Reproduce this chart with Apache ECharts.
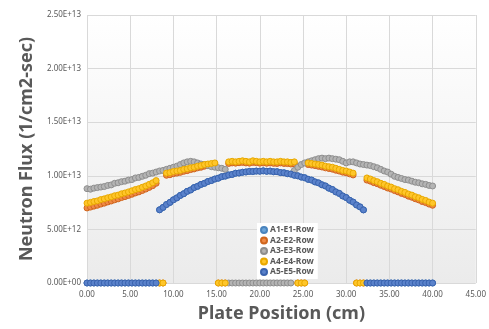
<!DOCTYPE html>
<html>
<head>
<meta charset="utf-8">
<title>Neutron Flux</title>
<script src="https://cdn.jsdelivr.net/npm/echarts@6/dist/echarts.min.js"></script>
<style>
    html, body {margin: 0; padding: 0; background: #fff;}
    #fluxChart {width: 489px; height: 329px;}
</style>
</head>
<body>
<div id="fluxChart"></div>
<script>
// plate position (cm)
var positions = [
    0.0, 0.4, 0.8, 1.2, 1.6, 2.0, 2.4, 2.8, 3.2, 3.6,
    4.0, 4.4, 4.8, 5.2, 5.6, 6.0, 6.4, 6.8, 7.2, 7.6,
    8.0, 8.4, 8.8, 9.2, 9.6, 10.0, 10.4, 10.8, 11.2, 11.6,
    12.0, 12.4, 12.8, 13.2, 13.6, 14.0, 14.4, 14.8, 15.2, 15.6,
    16.0, 16.4, 16.8, 17.2, 17.6, 18.0, 18.4, 18.8, 19.2, 19.6,
    20.0, 20.4, 20.8, 21.2, 21.6, 22.0, 22.4, 22.8, 23.2, 23.6,
    24.0, 24.4, 24.8, 25.2, 25.6, 26.0, 26.4, 26.8, 27.2, 27.6,
    28.0, 28.4, 28.8, 29.2, 29.6, 30.0, 30.4, 30.8, 31.2, 31.6,
    32.0, 32.4, 32.8, 33.2, 33.6, 34.0, 34.4, 34.8, 35.2, 35.6,
    36.0, 36.4, 36.8, 37.2, 37.6, 38.0, 38.4, 38.8, 39.2, 39.6,
    40.0
];

// flux values in units of 1E+12 (1/cm2-sec)
var a5Flux = [
    0, 0, 0, 0, 0, 0, 0, 0, 0, 0,
    0, 0, 0, 0, 0, 0, 0, 0, 0, 0,
    0, 6.83, 7.05, 7.32, 7.52, 7.76, 7.94, 8.17, 8.33, 8.55,
    8.68, 8.9, 9.02, 9.2, 9.3, 9.47, 9.56, 9.7, 9.78, 9.92,
    9.97, 10.08, 10.13, 10.24, 10.26, 10.33, 10.36, 10.41, 10.4, 10.44,
    10.43, 10.46, 10.42, 10.44, 10.38, 10.38, 10.3, 10.28, 10.2, 10.16,
    10.05, 10.0, 9.88, 9.82, 9.67, 9.6, 9.43, 9.34, 9.16, 9.05,
    8.85, 8.72, 8.5, 8.36, 8.12, 7.97, 7.72, 7.55, 7.28, 7.1,
    6.82, 0, 0, 0, 0, 0, 0, 0, 0, 0,
    0, 0, 0, 0, 0, 0, 0, 0, 0, 0,
    0
];

// A1 row sits exactly under A5 in the source chart
var a1Flux = a5Flux.slice();

var a2Flux = [
    7.0, 7.08, 7.17, 7.25, 7.36, 7.45, 7.56, 7.65, 7.76, 7.85,
    7.97, 8.06, 8.17, 8.28, 8.4, 8.5, 8.63, 8.76, 8.92, 9.08,
    9.3, 0, 0, 10.05, 10.1, 10.2, 10.25, 10.32, 10.42, 10.48,
    10.58, 10.64, 10.74, 10.8, 10.9, 10.96, 11.02, 11.08, 0, 0,
    0, 11.15, 11.2, 11.18, 11.22, 11.25, 11.2, 11.18, 11.25, 11.22,
    11.18, 11.2, 11.17, 11.2, 11.16, 11.15, 11.2, 11.15, 11.14, 11.1,
    11.12, 0, 0, 0, 11.05, 11.0, 10.95, 10.88, 10.82, 10.74,
    10.68, 10.62, 10.52, 10.44, 10.34, 10.28, 10.18, 10.08, 0, 0,
    0, 9.6, 9.5, 9.36, 9.26, 9.12, 9.0, 8.86, 8.76, 8.62,
    8.5, 8.36, 8.26, 8.1, 8.0, 7.86, 7.75, 7.6, 7.5, 7.36,
    7.25
];

var a3Flux = [
    8.8, 8.75, 8.85, 8.9, 8.95, 9.0, 9.1, 9.15, 9.3, 9.35,
    9.45, 9.5, 9.6, 9.65, 9.8, 9.85, 9.95, 10.05, 10.2, 10.25,
    10.35, 10.45, 10.5, 10.6, 10.7, 10.8, 10.9, 11.05, 11.2, 11.3,
    11.35, 11.3, 11.2, 11.1, 11.05, 10.95, 10.85, 10.8, 10.75, 10.7,
    10.6, 0, 0, 0, 0, 0, 0, 0, 0, 0,
    0, 0, 0, 0, 0, 0, 0, 0, 0, 0,
    10.5, 10.8, 11.05, 11.2, 11.3, 11.4, 11.5, 11.6, 11.65, 11.6,
    11.65, 11.6, 11.55, 11.5, 11.35, 11.2, 11.3, 11.3, 11.2, 11.1,
    11.05, 11.0, 10.95, 10.85, 10.75, 10.6, 10.45, 10.35, 10.15, 9.95,
    9.85, 9.75, 9.65, 9.6, 9.5, 9.4, 9.35, 9.25, 9.2, 9.1,
    9.05
];

var a4Flux = [
    7.45, 7.52, 7.6, 7.66, 7.78, 7.85, 7.95, 8.03, 8.14, 8.2,
    8.32, 8.4, 8.5, 8.6, 8.72, 8.8, 8.93, 9.05, 9.2, 9.35,
    9.55, 0, 0, 10.25, 10.3, 10.4, 10.45, 10.5, 10.6, 10.65,
    10.75, 10.8, 10.9, 10.95, 11.05, 11.1, 11.15, 11.2, 0, 0,
    0, 11.3, 11.35, 11.3, 11.35, 11.4, 11.35, 11.3, 11.4, 11.35,
    11.3, 11.35, 11.3, 11.35, 11.3, 11.3, 11.35, 11.3, 11.3, 11.25,
    11.3, 0, 0, 0, 11.2, 11.15, 11.1, 11.05, 11.0, 10.9,
    10.85, 10.8, 10.7, 10.6, 10.5, 10.45, 10.35, 10.25, 0, 0,
    0, 9.8, 9.7, 9.55, 9.45, 9.3, 9.2, 9.05, 8.95, 8.8,
    8.7, 8.55, 8.45, 8.3, 8.2, 8.05, 7.95, 7.8, 7.7, 7.55,
    7.45
];

var seriesNames = ["A1-E1-Row", "A2-E2-Row", "A3-E3-Row", "A4-E4-Row", "A5-E5-Row"];
var seriesFlux = [a1Flux, a2Flux, a3Flux, a4Flux, a5Flux];
var fillColors = ['#6BA5DA', '#F08A45', '#B4B4B4', '#FFC62A', '#5A82CB'];
var edgeColors = ['#4A84BE', '#D0661E', '#8E8E8E', '#E8A800', '#3A63AE'];

var xTicks = {min: 0, max: 45, interval: 5};
var yTicks = {min: 0, max: 2.5e13, interval: 5e12};

function sciLabel(v) {
    var s = Number(v).toExponential(2).toUpperCase();
    var parts = s.split('E');
    var sign = parts[1].charAt(0);
    var digits = parts[1].slice(1);
    if (digits.length < 2) digits = '0' + digits;
    return parts[0] + 'E' + sign + digits;
}

function buildPoints(flux) {
    var pts = [];
    for (var i = 0; i < positions.length; i++) {
        pts.push([positions[i], flux[i] * 1e12]);
    }
    return pts;
}

var myChart = echarts.init(document.getElementById('fluxChart'), null, {renderer: 'canvas'});

var series = [];
for (var k = 0; k < seriesNames.length; k++) {
    series.push({
        name: seriesNames[k],
        type: 'scatter',
        symbol: 'circle',
        symbolSize: 6,
        data: buildPoints(seriesFlux[k]),
        itemStyle: {color: fillColors[k], borderColor: edgeColors[k], borderWidth: 1, opacity: 1},
        emphasis: {disabled: true},
        z: 2 + k
    });
}

var option = {
    animation: false,
    textStyle: {fontFamily: 'Noto Sans'},
    grid: {
        left: 87, right: 8, top: 15, bottom: 46,
        show: true, borderWidth: 0,
        backgroundColor: new echarts.graphic.LinearGradient(0, 0, 0, 1, [
            {offset: 0, color: '#ffffff'},
            {offset: 1, color: '#ebebeb'}
        ])
    },
    legend: {
        orient: 'vertical',
        left: 257, top: 223,
        icon: 'circle',
        itemWidth: 6, itemHeight: 6, itemGap: 0.5,
        padding: [2, 4, 2, 3],
        backgroundColor: '#ffffff',
        textStyle: {fontSize: 8.5, lineHeight: 10, fontWeight: 'bold', color: '#595959', padding: [0, 0, 0, -2]},
        data: seriesNames
    },
    xAxis: {
        type: 'value',
        min: xTicks.min, max: xTicks.max, interval: xTicks.interval,
        name: 'Plate Position (cm)',
        nameLocation: 'middle',
        nameGap: 22,
        nameTextStyle: {fontSize: 18, fontWeight: 'bold', color: '#595959'},
        axisLine: {show: false},
        axisTick: {show: false},
        axisLabel: {fontSize: 8, color: '#595959', margin: 8, formatter: function (v) { return v.toFixed(2); }},
        splitLine: {show: true, lineStyle: {color: '#d9d9d9', width: 1}}
    },
    yAxis: {
        type: 'value',
        min: yTicks.min, max: yTicks.max, interval: yTicks.interval,
        name: 'Neutron Flux (1/cm2-sec)',
        nameLocation: 'middle',
        nameGap: 49,
        nameTextStyle: {fontSize: 18, fontWeight: 'bold', color: '#595959'},
        axisLine: {show: false},
        axisTick: {show: false},
        axisLabel: {fontSize: 8, color: '#595959', margin: 6, formatter: sciLabel},
        splitLine: {show: true, lineStyle: {color: '#d9d9d9', width: 1}}
    },
    series: series
};

myChart.setOption(option);
</script>
</body>
</html>
